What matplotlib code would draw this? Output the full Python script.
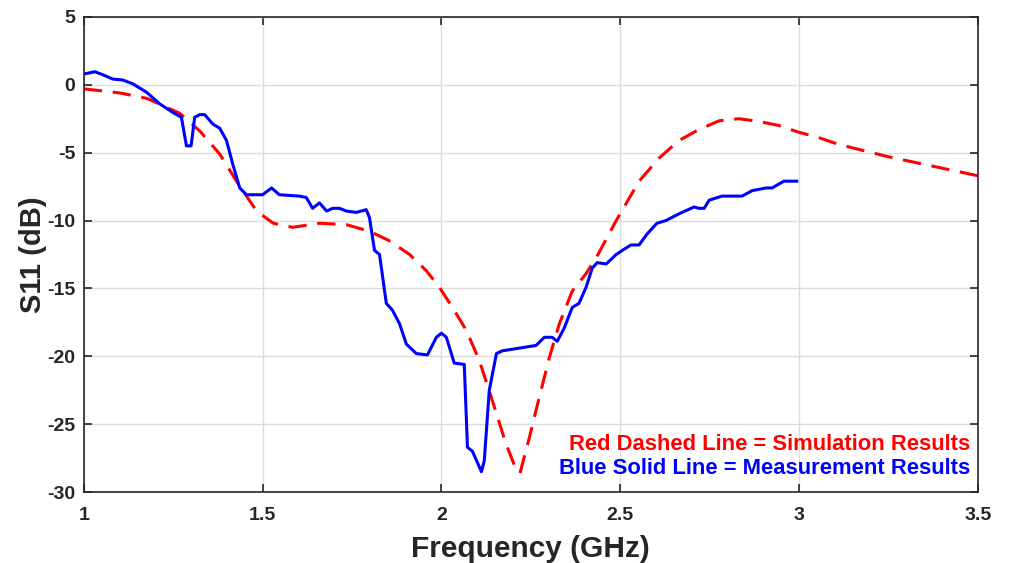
import numpy as np
import matplotlib
matplotlib.use('Agg')
import matplotlib.pyplot as plt

# measured S11 (blue solid)
meas_f = [1.0, 1.031, 1.053, 1.081, 1.109, 1.137, 1.176, 1.212, 1.249, 1.273, 1.287, 1.30, 1.31,
          1.324, 1.338, 1.361, 1.38, 1.399, 1.416, 1.436, 1.455, 1.5, 1.525, 1.547, 1.603, 1.622,
          1.64, 1.659, 1.679, 1.696, 1.715, 1.734, 1.762, 1.79, 1.799, 1.813, 1.827, 1.846, 1.863,
          1.883, 1.902, 1.930, 1.961, 1.986, 2.0, 2.014, 2.036, 2.064, 2.073, 2.087, 2.112, 2.12,
          2.134, 2.154, 2.17, 2.265, 2.288, 2.31, 2.324, 2.344, 2.366, 2.385, 2.405, 2.422, 2.436,
          2.461, 2.489, 2.506, 2.53, 2.553, 2.575, 2.603, 2.628, 2.665, 2.707, 2.72, 2.735, 2.749,
          2.785, 2.841, 2.869, 2.908, 2.925, 2.958, 2.994]
meas_db = [0.79, 0.96, 0.74, 0.42, 0.35, 0.07, -0.56, -1.4, -2.04, -2.4, -4.5, -4.5, -2.4,
           -2.2, -2.2, -2.9, -3.2, -4.1, -5.8, -7.6, -8.1, -8.1, -7.6, -8.1, -8.2, -8.3,
           -9.1, -8.7, -9.3, -9.1, -9.1, -9.3, -9.4, -9.2, -9.8, -12.2, -12.5, -16.1, -16.6,
           -17.6, -19.1, -19.8, -19.9, -18.6, -18.3, -18.6, -20.5, -20.6, -26.7, -27.0, -28.5, -27.7,
           -22.5, -19.8, -19.6, -19.2, -18.6, -18.6, -18.9, -17.9, -16.4, -16.1, -14.9, -13.5, -13.1,
           -13.2, -12.5, -12.2, -11.8, -11.8, -11.0, -10.2, -10.0, -9.5, -9.0, -9.1, -9.1, -8.5,
           -8.2, -8.2, -7.8, -7.6, -7.6, -7.1, -7.1]

# simulated S11 (red dashed)
sim_f = [1.0, 1.1, 1.176, 1.268, 1.324, 1.38, 1.427, 1.483, 1.53, 1.584, 1.659, 1.734, 1.8,
         1.855, 1.911, 1.958, 1.994, 2.031, 2.07, 2.106, 2.143, 2.18, 2.21, 2.22, 2.246, 2.274,
         2.302, 2.33, 2.366, 2.405, 2.436, 2.489, 2.553, 2.609, 2.665, 2.72, 2.777, 2.832, 2.888,
         2.944, 3.0, 3.056, 3.112, 3.25, 3.5]
sim_db = [-0.3, -0.6, -1.0, -2.1, -3.4, -5.1, -7.1, -9.3, -10.2, -10.5, -10.2, -10.3, -10.8,
          -11.5, -12.5, -13.7, -14.9, -16.4, -18.1, -20.3, -23.3, -26.4, -28.4, -28.6, -26.0, -23.0,
          -20.1, -17.6, -15.2, -13.9, -12.6, -10.0, -7.1, -5.4, -4.1, -3.3, -2.65, -2.5, -2.7,
          -3.0, -3.5, -3.9, -4.4, -5.3, -6.7]

plt.rcParams['font.family'] = ['Liberation Sans', 'DejaVu Sans']
plt.rcParams['font.weight'] = 'bold'
plt.rcParams['axes.unicode_minus'] = False

fig = plt.figure(figsize=(10.1, 5.63), dpi=100)
ax = fig.add_axes([0.083, 0.126, 0.885, 0.844])

ax.plot(sim_f, sim_db, color='#ff0000', linestyle=(0, (6, 3.5)), linewidth=2.2)
ax.plot(meas_f, meas_db, color='#0000ff', linewidth=2.2)

ax.set_xlim(1, 3.5)
ax.set_ylim(-30, 5)
ax.set_xticks([1, 1.5, 2, 2.5, 3, 3.5])
ax.set_xticklabels(['1', '1.5', '2', '2.5', '3', '3.5'])
ax.set_yticks(range(-30, 6, 5))
ax.grid(True, color='#dcdcdc', linewidth=1)
ax.set_axisbelow(True)
ax.tick_params(direction='in', length=6, width=1.2, labelsize=14, colors='#262626', top=True, right=True,
               labeltop=False, labelright=False)
ax.tick_params(axis='x', pad=11)
ax.tick_params(axis='y', pad=6)
for s in ax.spines.values():
    s.set_color('#262626')
    s.set_linewidth(1.2)

ax.set_xlabel('Frequency (GHz)', fontsize=21.5, fontweight='bold', color='#262626', labelpad=8)
ax.set_ylabel('S11 (dB)', fontsize=21, fontweight='bold', color='#262626', labelpad=0)

ax.text(3.48, -26.5, 'Red Dashed Line = Simulation Results', color='#ff0000',
        fontsize=15.8, fontweight='bold', ha='right', va='center')
ax.text(3.48, -28.3, 'Blue Solid Line = Measurement Results', color='#0000ff',
        fontsize=15.8, fontweight='bold', ha='right', va='center')

fig.savefig('out.png', dpi=100)
